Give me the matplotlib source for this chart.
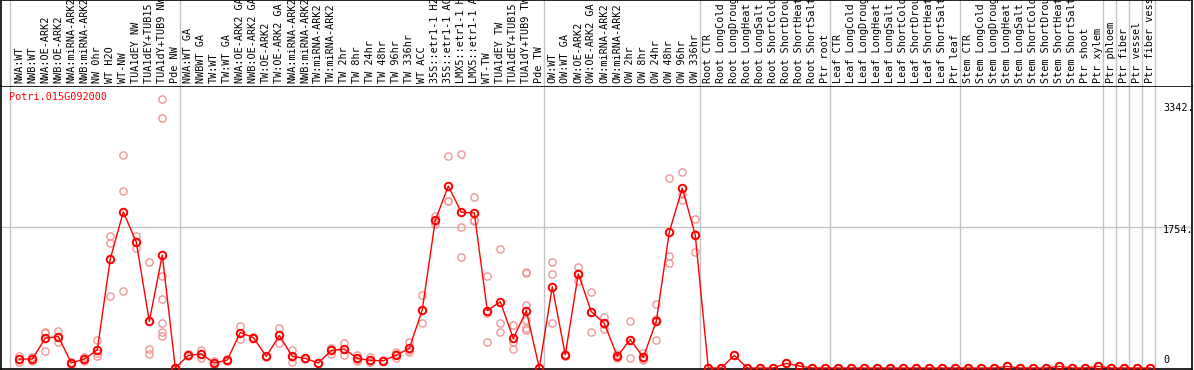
import matplotlib
matplotlib.use("Agg")
import matplotlib.pyplot as plt
import matplotlib.transforms as mtransforms

title = "Potri.015G092000"

samples = [
    "NWA:WT", "NWB:WT", "NWA:OE-ARK2", "NWB:OE-ARK2", "NWA:miRNA-ARK2", "NWB:miRNA-ARK2",
    "NW 0hr", "WT H2O", "WT-NW", "TUA1dEY NW", "TUA1dEY+TUB15 NW", "TUA1dY+TUB9 NW", "Pde NW",
    "NWA:WT GA", "NWBWT GA", "TW:WT", "TW:WT GA", "NWA:OE-ARK2 GA", "NWB:OE-ARK2 GA",
    "TW:OE-ARK2", "TW:OE-ARK2 GA", "NWA:miRNA-ARK2", "NWB:miRNA-ARK2", "TW:miRNA-ARK2",
    "TW:miRNA-ARK2", "TW 2hr", "TW 8hr", "TW 24hr", "TW 48hr", "TW 96hr", "TW 336hr",
    "WT ACC", "35S::etr1-1 H2O", "35S::etr1-1 ACC", "LMX5::etr1-1 H2O", "LMX5::etr1-1 ACC",
    "WT-TW", "TUA1dEY TW", "TUA1dEY+TUB15 TW", "TUA1dY+TUB9 TW", "Pde TW",
    "OW:WT", "OW:WT GA", "OW:OE-ARK2", "OW:OE-ARK2 GA", "OW:miRNA-ARK2", "OW:miRNA-ARK2",
    "OW 2hr", "OW 8hr", "OW 24hr", "OW 48hr", "OW 96hr", "OW 336hr",
    "Root CTR", "Root LongCold", "Root LongDrought", "Root LongHeat", "Root LongSalt",
    "Root ShortCold", "Root ShortDrought", "Root ShortHeat", "Root ShortSalt", "Ptr root",
    "Leaf CTR", "Leaf LongCold", "Leaf LongDrought", "Leaf LongHeat", "Leaf LongSalt",
    "Leaf ShortCold", "Leaf ShortDrought", "Leaf ShortHeat", "Leaf ShortSalt", "Ptr leaf",
    "Stem CTR", "Stem LongCold", "Stem LongDrought", "Stem LongHeat", "Stem LongSalt",
    "Stem ShortCold", "Stem ShortDrought", "Stem ShortHeat", "Stem ShortSalt", "Ptr shoot",
    "Ptr xylem", "Ptr phloem", "Ptr fiber", "Ptr vessel", "Ptr fiber vessel",
]

means = [
    111, 111, 370, 391, 62, 111, 226, 1358, 1939, 1565, 580, 1404, 0,
    157, 173, 62, 99, 441, 379, 144, 404, 144, 120, 62, 219, 235, 120, 95, 90, 161, 243,
    725, 1836, 2260, 1935, 1927, 713, 824, 367, 713, 0,
    1009, 164, 1170, 700, 556, 144, 354, 132, 580, 1688, 2235, 1651,
    0, 0, 157, 0, 0, 0, 58, 25, 0, 0,
    0, 0, 0, 0, 0, 0, 0, 0, 0, 0,
    0, 0, 0, 20, 0, 0, 0, 20, 0, 0,
    20, 0, 0, 0, 0,
]

replicates = [
    [152, 110, 70], [140, 111, 82], [453, 432, 206], [465, 391, 317], [62, 55, 70],
    [90, 111, 132], [342, 192, 144], [1634, 1556, 889], [2643, 2202, 959],
    [1634, 1571, 1490], [1317, 239, 177], [3342, 3108, 1144, 852, 564, 453, 399], [0, 0, 0],
    [170, 157, 145], [226, 173, 119], [82, 62, 42], [110, 99, 88], [523, 434, 366],
    [390, 379, 368], [150, 144, 138], [502, 405, 305], [218, 136, 78], [125, 120, 115],
    [62, 62, 62], [247, 233, 177], [305, 236, 164], [164, 114, 82], [136, 79, 70],
    [95, 90, 85], [194, 169, 120], [317, 218, 194],
    [902, 717, 556], [1893, 1824, 1791], [2631, 2078, 2071], [2664, 1750, 1379],
    [2120, 1837, 1824], [1144, 688, 321], [1478, 556, 453], [539, 317, 235],
    [1190, 1182, 782, 597, 494, 473], [0, 0, 0],
    [1317, 1169, 556], [175, 164, 153], [1251, 1176, 1083], [947, 700, 453],
    [638, 548, 482], [177, 136, 119], [589, 354, 119], [185, 116, 95], [790, 605, 346],
    [2367, 1392, 1305], [2441, 2161, 2087], [1848, 1664, 1441],
] + [[v, v, v] for v in [0, 0, 157, 0, 0, 0, 58, 25, 0, 0]] \
  + [[v, v, v] for v in [0] * 10] \
  + [[v, v, v] for v in [0, 0, 0, 20, 0, 0, 0, 20, 0, 0]] \
  + [[v, v, v] for v in [20, 0, 0, 0, 0]]

group_starts = [13, 41, 53, 63, 73, 84, 85, 86, 87, 88]
ytick_values = [0, 1754, 3342]
ytick_labels = ["0", "1754.", "3342."]

W, H = 1194, 370
fig = plt.figure(figsize=(W / 100, H / 100), dpi=100)
fig.patch.set_facecolor("white")

ax = fig.add_axes([1 / W, 1 / H, 1191 / W, 283 / H])
lab = fig.add_axes([1 / W, 284 / H, 1191 / W, 86 / H])

xlim = (-1.408, 90.21)
for a in (ax, lab):
    a.set_xlim(*xlim)
    a.set_xticks([])
    a.set_yticks([])
    for s in a.spines.values():
        s.set_color("black")
        s.set_linewidth(1.2)
lab.set_ylim(0, 1)
lab.spines["bottom"].set_visible(False)
ax.set_ylim(-12.4, 3504)

sep_color = "#c4c4c4"
seps = [-0.715] + [g - 0.615 for g in group_starts]
for a in (ax, lab):
    for s in seps:
        a.axvline(s, color=sep_color, lw=1.0, zorder=0)
ax.axhline(1754, color=sep_color, lw=1.0, zorder=0)

mono = "DejaVu Sans Mono"

# replicates
for i, reps in enumerate(replicates):
    ax.plot([i] * len(reps), reps, linestyle="none", marker="o", ms=5.2,
            mfc="none", mec="#ee9898", mew=1.0, zorder=2, clip_on=True)

xs = list(range(len(means)))
ax.plot(xs, means, color="red", lw=1.0, zorder=3)
ax.plot(xs, means, linestyle="none", marker="o", ms=5.4, mfc="none",
        mec="red", mew=1.4, zorder=4)

# sample labels
trans = mtransforms.blended_transform_factory(lab.transData, lab.transAxes)
for i, name in enumerate(samples):
    lab.text(i, 3 / 86, name, rotation=90, ha="center", va="bottom",
             fontsize=7.3, family=mono, color="black", transform=trans,
             clip_on=True)

# title
ax.annotate(title, xy=(0, 1), xycoords="axes fraction", xytext=(8, -11),
            textcoords="offset pixels", ha="left", va="center",
            fontsize=7.3, family=mono, color="red")

# y value labels on the right
offsets = {0: 8.3, 1754: -3.4, 3342: -9.4}
for v, t in zip(ytick_values, ytick_labels):
    ax.annotate(t, xy=(1, v), xycoords=("axes fraction", "data"),
                xytext=(-29, offsets[v]), textcoords="offset pixels",
                ha="left", va="center", fontsize=7.3, family=mono, color="black")

fig.savefig("out.png", dpi=100)
